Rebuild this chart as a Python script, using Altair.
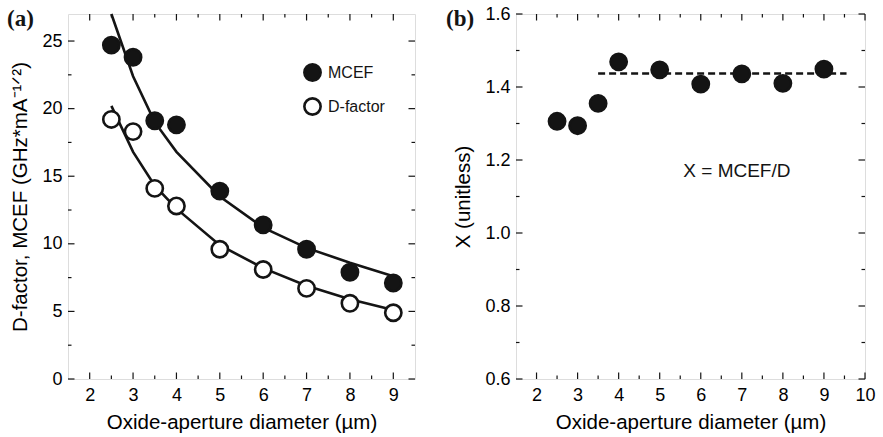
import altair as alt
import pandas as pd

INK = "#141414"
FONT = "Liberation Sans"

# ---------------- data ----------------
diam = [2.5, 3, 3.5, 4, 5, 6, 7, 8, 9]
mcef = [24.7, 23.8, 19.1, 18.8, 13.9, 11.4, 9.6, 7.9, 7.1]
dfac = [19.2, 18.3, 14.1, 12.8, 9.6, 8.1, 6.7, 5.6, 4.9]
mcef_fit = [27.0, 22.4, 19.0, 16.8, 13.5, 11.2, 9.7, 8.6, 7.6]
dfac_fit = [20.2, 16.8, 14.3, 12.6, 9.9, 8.2, 6.9, 5.9, 5.1]
ratio = [1.306, 1.294, 1.355, 1.469, 1.447, 1.408, 1.436, 1.410, 1.449]
mean_x = [3.5, 9.55]
mean_y = [1.437, 1.437]
series_names = ["MCEF", "D-factor"]

# tick values
a_x_major = [2, 3, 4, 5, 6, 7, 8, 9]
a_x_minor = [2.5, 3.5, 4.5, 5.5, 6.5, 7.5, 8.5]
a_y_major = [0, 5, 10, 15, 20, 25]
a_y_minor = [2.5, 7.5, 12.5, 17.5, 22.5]
b_x_major = [2, 3, 4, 5, 6, 7, 8, 9, 10]
b_x_minor = [2.5, 3.5, 4.5, 5.5, 6.5, 7.5, 8.5, 9.5]
b_y_major = [0.6, 0.8, 1.0, 1.2, 1.4, 1.6]
b_y_minor = [0.7, 0.9, 1.1, 1.3, 1.5]

XTITLE = "Oxide-aperture diameter (µm)"
MAJ, MIN = 6.5, 3.5
MSIZE = 265


def tick_layers(xs_major, xs_minor, ys_major, ys_minor, W, H, X, Y):
    layers = []
    for vals, L in ((xs_major, MAJ), (xs_minor, MIN)):
        base = alt.Chart(pd.DataFrame({"x": vals}))
        layers.append(base.mark_rule(color=INK, strokeWidth=1.2).encode(
            x=X, y=alt.value(H), y2=alt.value(H - L)))
        layers.append(base.mark_rule(color=INK, strokeWidth=1.2).encode(
            x=X, y=alt.value(0), y2=alt.value(L)))
    for vals, L in ((ys_major, MAJ), (ys_minor, MIN)):
        base = alt.Chart(pd.DataFrame({"y": vals}))
        layers.append(base.mark_rule(color=INK, strokeWidth=1.2).encode(
            y=Y, x=alt.value(0), x2=alt.value(L)))
        layers.append(base.mark_rule(color=INK, strokeWidth=1.2).encode(
            y=Y, x=alt.value(W), x2=alt.value(W - L)))
    return layers


def panel_label(t):
    return alt.Chart(pd.DataFrame({"t": [t]})).mark_text(
        font="Liberation Serif", fontWeight="bold", fontSize=23, color=INK,
        align="left", baseline="alphabetic").encode(text="t:N")


def make_axis(title, values, fmt, tpad):
    return alt.Axis(title=title, values=values, format=fmt, ticks=False, domain=False,
                    grid=False, labelFontSize=18, labelPadding=tpad[0], titlePadding=tpad[1],
                    titleFontSize=20.5, titleFontWeight="normal", labelFlush=False,
                    labelOverlap=False)


# ---------------- panel (a) ----------------
WA, HA = 347, 365
xa_axis = make_axis(XTITLE, a_x_major, "d", (7, 8))
ya_axis = make_axis("D-factor, MCEF (GHz*mA⁻¹ᐟ²)", a_y_major, "d", (6, 11))
XA = alt.X("x:Q", scale=alt.Scale(domain=[1.5, 9.5], nice=False, zero=False), axis=xa_axis)
YA = alt.Y("y:Q", scale=alt.Scale(domain=[0, 27], nice=False, zero=False), axis=ya_axis)

pts_a = pd.DataFrame({
    "x": diam + diam,
    "y": mcef + dfac,
    "series": [series_names[0]] * len(diam) + [series_names[1]] * len(diam),
})
fit_a = pd.DataFrame({
    "x": diam + diam,
    "y": mcef_fit + dfac_fit,
    "series": [series_names[0]] * len(diam) + [series_names[1]] * len(diam),
})

lines_a = alt.Chart(fit_a).mark_line(color=INK, strokeWidth=2.6).encode(
    x=XA, y=YA, detail="series:N")
points_a = alt.Chart(pts_a).mark_circle(size=MSIZE, opacity=1, stroke=INK, strokeWidth=2.6).encode(
    x=XA, y=YA,
    fill=alt.Fill("series:N",
                  scale=alt.Scale(domain=series_names, range=[INK, "white"]),
                  legend=alt.Legend(title=None, orient="none", legendX=235, legendY=49,
                                    symbolType="circle", symbolSize=MSIZE,
                                    symbolStrokeColor=INK, symbolStrokeWidth=2.6,
                                    symbolFillColor=INK,
                                    labelFont=FONT, labelFontSize=16, labelColor=INK,
                                    labelOffset=6, rowPadding=7, padding=0)),
)
lab_a = panel_label("(a)").encode(x=alt.value(-61), y=alt.value(12))

panel_a = alt.layer(
    *tick_layers(a_x_major, a_x_minor, a_y_major, a_y_minor, WA, HA, XA, YA),
    lines_a, points_a, lab_a,
).properties(width=WA, height=HA)

# ---------------- panel (b) ----------------
WB, HB = 349, 365
xb_axis = make_axis(XTITLE, b_x_major, "d", (7, 8))
yb_axis = make_axis("X (unitless)", b_y_major, ".1f", (6, 11))
XB = alt.X("x:Q", scale=alt.Scale(domain=[1.5, 10], nice=False, zero=False), axis=xb_axis)
YB = alt.Y("y:Q", scale=alt.Scale(domain=[0.6, 1.6], nice=False, zero=False), axis=yb_axis)

pts_b = pd.DataFrame({"x": diam, "y": ratio})
mean_b = pd.DataFrame({"x": mean_x, "y": mean_y})
note_b = pd.DataFrame({"x": [6.88], "y": [1.171], "t": ["X = MCEF/D"]})

dash_b = alt.Chart(mean_b).mark_line(color=INK, strokeWidth=2.6, strokeDash=[7, 4]).encode(
    x=XB, y=YB)
points_b = alt.Chart(pts_b).mark_circle(size=MSIZE, opacity=1, color=INK, stroke=INK,
                                        strokeWidth=2.6).encode(x=XB, y=YB)
text_b = alt.Chart(note_b).mark_text(font=FONT, fontSize=19, color=INK, align="center",
                                     baseline="middle").encode(x=XB, y=YB, text="t:N")
lab_b = panel_label("(b)").encode(x=alt.value(-70), y=alt.value(12))

panel_b = alt.layer(
    *tick_layers(b_x_major, b_x_minor, b_y_major, b_y_minor, WB, HB, XB, YB),
    dash_b, points_b, text_b, lab_b,
).properties(width=WB, height=HB)

chart = alt.hconcat(panel_a, panel_b, spacing=28).resolve_legend(
    fill="independent"
).properties(
    padding={"left": 6, "top": 4, "right": 0, "bottom": 0}
).configure_view(
    stroke=INK, strokeWidth=1.5
).configure_axis(
    labelFont=FONT, titleFont=FONT, labelColor=INK, titleColor=INK
).configure(background="white")

chart.save("out.html", embed_options={"renderer": "svg", "actions": False})
